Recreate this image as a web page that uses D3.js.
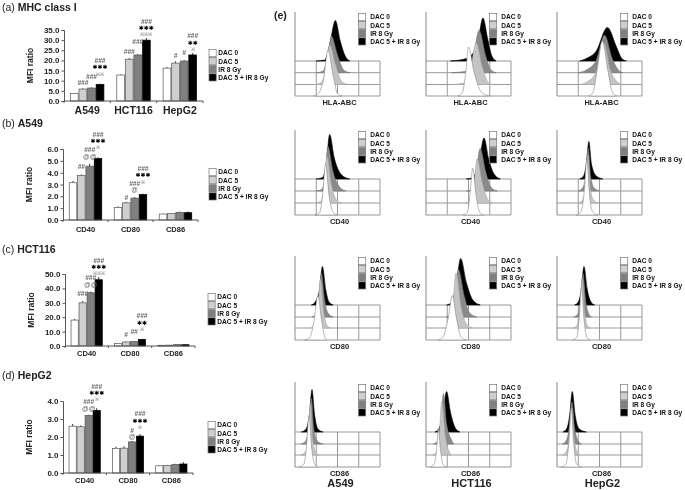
<!DOCTYPE html>
<html>
<head>
<meta charset="utf-8">
<script src="https://cdnjs.cloudflare.com/ajax/libs/d3/7.8.5/d3.min.js"></script>
<style>
body { margin: 0; background: #fff; }
text { font-family: "Liberation Sans", Arial, sans-serif; }
#chart { filter: blur(0.35px); }
</style>
</head>
<body>
<div id="chart"></div>
<script>
const width = 685;
const height = 490;

const treatments = ["DAC 0", "DAC 5", "IR 8 Gy", "DAC 5 + IR 8 Gy"];
const fills = ["#ffffff", "#cfcfcf", "#808080", "#000000"];

// bar values, one row per group, one column per treatment
const cellLines = ["A549", "HCT116", "HepG2"];
const markers = ["CD40", "CD80", "CD86"];

const mhcValues = [[3.7, 5.9, 6.4, 8.2], [12.8, 20.6, 22.7, 30.0], [16.2, 18.7, 19.7, 22.7]];
const mhcErrors = [[0.2, 0.3, 0.3, 0.4], [0.3, 0.6, 0.4, 1.0], [0.5, 0.8, 0.5, 1.0]];
const a549Values = [[3.15, 3.75, 4.55, 5.2], [1.05, 1.45, 1.85, 2.15], [0.5, 0.55, 0.65, 0.62]];
const a549Errors = [[0.15, 0.1, 0.2, 0.1], [0.1, 0.08, 0.1, 0.08], [0.03, 0.04, 0.05, 0.1]];
const hctValues = [[18, 30, 37, 46], [1.8, 2.8, 3.2, 4.6], [0.5, 0.6, 1.0, 0.9]];
const hctErrors = [[0.8, 1.2, 0.8, 1.8], [0.3, 0.4, 0.3, 0.4], [0.1, 0.1, 0.1, 0.1]];
const hepValues = [[2.6, 2.57, 3.2, 3.48], [1.37, 1.38, 1.73, 2.05], [0.4, 0.42, 0.48, 0.5]];
const hepErrors = [[0.12, 0.07, 0.04, 0.12], [0.1, 0.1, 0.05, 0.12], [0.03, 0.03, 0.03, 0.1]];

// significance marks: group, bar, lines from the bar upward
const mhcMarks = [
    [0, 1, ["###"]], [0, 2, ["###"]], [0, 3, ["※※", "✱✱✱", "###"]],
    [1, 1, ["###"]], [1, 2, ["###"]], [1, 3, ["※※※", "✱✱✱", "###"]],
    [2, 1, ["#"]], [2, 2, ["#"]], [2, 3, ["※", "✱✱", "###"]]
];
const a549Marks = [
    [0, 1, ["##"]], [0, 2, ["@@", "###"]], [0, 3, ["※", "✱✱✱", "###"]],
    [1, 1, ["#"]], [1, 2, ["@", "###"]], [1, 3, ["※", "✱✱✱", "###"]]
];
const hctMarks = [
    [0, 1, ["###"]], [0, 2, ["@@", "###"]], [0, 3, ["※※※", "✱✱✱", "###"]],
    [1, 1, ["#"]], [1, 2, ["##"]], [1, 3, ["※", "✱✱", "###"]]
];
const hepMarks = [
    [0, 2, ["@@", "###"]], [0, 3, ["※", "✱✱✱", "###"]],
    [1, 2, ["@", "#"]], [1, 3, ["※", "✱✱✱", "###"]]
];

// histogram outlines as [log decade, relative count], back curve first
const hlaA549 = [
    [[1.0,0],[1.4,2],[1.63,33],[1.9,81],[2.13,40],[2.34,12],[2.57,0]],
    [[1.0,0],[1.3,3],[1.55,35],[1.71,73],[2.0,35],[2.3,5],[2.6,0]],
    [[0.9,0],[1.2,3],[1.45,30],[1.63,79],[1.9,40],[2.2,6],[2.5,0]],
    [[0.9,0],[1.1,5],[1.35,35],[1.55,92],[1.8,40],[2.0,5],[2.2,0]]
];
const hlaHct = [
    [[1.15,0],[1.9,5],[2.4,30],[2.68,86],[2.9,45],[3.1,10],[3.3,0]],
    [[1.2,0],[1.9,3],[2.2,25],[2.5,85],[2.8,35],[3.05,6],[3.3,0]],
    [[1.2,0],[1.8,3],[2.1,30],[2.35,84],[2.65,35],[2.9,6],[3.1,0]],
    [[1.5,0],[1.7,6],[1.88,50],[2.0,98],[2.25,50],[2.6,8],[2.95,0]]
];
const hlaHep = [
    [[1.07,0],[1.38,5],[1.85,20],[2.37,67],[2.8,28],[3.05,5],[3.26,0]],
    [[1.0,0],[1.4,6],[1.85,25],[2.24,75],[2.6,28],[2.9,5],[3.1,0]],
    [[1.07,0],[1.4,5],[1.85,25],[2.2,83],[2.5,30],[2.85,5],[3.05,0]],
    [[1.5,0],[1.7,8],[1.9,55],[2.13,110],[2.4,50],[2.6,8],[2.8,0]]
];
const cd40A549 = [
    [[1.0,0],[1.3,3],[1.47,30],[1.63,89],[1.85,42],[2.2,8],[2.57,0]],
    [[1.0,0],[1.25,3],[1.42,30],[1.55,89],[1.78,40],[2.1,8],[2.4,0]],
    [[0.95,0],[1.2,3],[1.37,30],[1.5,93],[1.7,40],[1.95,6],[2.2,0]],
    [[0.93,0],[1.15,4],[1.3,40],[1.44,103],[1.6,40],[1.8,5],[2.0,0]]
];
const cd40Hct = [
    [[1.9,0],[2.2,3],[2.5,35],[2.73,82],[2.95,40],[3.2,10],[3.5,0]],
    [[1.9,0],[2.15,3],[2.35,35],[2.55,85],[2.8,40],[3.05,8],[3.35,0]],
    [[1.85,0],[2.05,3],[2.25,35],[2.4,88],[2.65,40],[2.9,8],[3.15,0]],
    [[1.75,0],[1.95,6],[2.08,45],[2.2,94],[2.35,42],[2.5,8],[2.7,0]]
];
const cd40Hep = [
    [[1.07,0],[1.25,6],[1.38,30],[1.5,75],[1.62,30],[1.85,6],[2.16,0]],
    [[1.0,0],[1.2,6],[1.35,30],[1.47,86],[1.58,30],[1.75,6],[2.0,0]],
    [[1.0,0],[1.2,6],[1.34,30],[1.46,96],[1.57,30],[1.72,6],[1.95,0]],
    [[0.9,0],[1.12,6],[1.28,45],[1.41,112],[1.52,45],[1.68,6],[1.93,0]]
];
const cd80A549 = [
    [[0.77,0],[0.95,6],[1.15,30],[1.29,77],[1.45,30],[1.6,6],[1.8,0]],
    [[0.8,0],[0.95,5],[1.1,30],[1.24,87],[1.4,32],[1.55,8],[1.8,0]],
    [[0.75,0],[0.9,5],[1.07,30],[1.2,97],[1.35,32],[1.5,6],[1.65,0]],
    [[0.45,0],[0.7,5],[0.9,40],[1.08,89],[1.25,40],[1.4,6],[1.5,0]]
];
const cd80Hct = [
    [[0.97,0],[1.2,5],[1.42,40],[1.63,93],[1.9,45],[2.2,10],[2.55,0]],
    [[0.95,0],[1.15,5],[1.35,40],[1.52,95],[1.8,42],[2.05,8],[2.4,0]],
    [[0.9,0],[1.1,5],[1.25,40],[1.41,110],[1.65,42],[1.9,8],[2.2,0]],
    [[0.58,0],[0.8,6],[1.05,45],[1.24,89],[1.45,40],[1.65,6],[1.9,0]]
];
const cd80Hep = [
    [[0.83,0],[1.0,6],[1.14,30],[1.27,77],[1.42,32],[1.6,6],[1.77,0]],
    [[0.8,0],[0.98,6],[1.1,30],[1.22,87],[1.35,32],[1.5,6],[1.62,0]],
    [[0.78,0],[0.95,6],[1.08,35],[1.19,97],[1.3,32],[1.42,6],[1.55,0]],
    [[0.75,0],[0.93,6],[1.05,45],[1.15,106],[1.27,42],[1.4,6],[1.55,0]]
];
const cd86A549 = [
    [[0.3,0],[0.52,6],[0.68,35],[0.8,85],[0.92,35],[1.08,6],[1.32,0]],
    [[0.3,0],[0.5,6],[0.65,35],[0.77,91],[0.88,32],[1.05,6],[1.32,0]],
    [[0.28,0],[0.48,6],[0.62,35],[0.72,101],[0.83,32],[0.98,6],[1.15,0]],
    [[0.2,0],[0.42,6],[0.55,45],[0.66,103],[0.78,40],[0.92,6],[1.08,0]]
];
const cd86Hct = [
    [[0.42,0],[0.6,6],[0.8,40],[0.97,81],[1.15,40],[1.38,8],[1.6,0]],
    [[0.35,0],[0.55,6],[0.7,40],[0.82,101],[0.97,40],[1.2,8],[1.3,0]],
    [[0.3,0],[0.5,6],[0.63,40],[0.74,107],[0.9,40],[1.1,6],[1.2,0]],
    [[0.2,0],[0.38,6],[0.5,35],[0.58,77],[0.68,35],[0.8,5],[0.97,0]]
];
const cd86Hep = [
    [[0.28,0],[0.47,8],[0.6,35],[0.72,81],[0.85,35],[1.05,6],[1.38,0]],
    [[0.25,0],[0.45,8],[0.58,35],[0.7,84],[0.82,35],[1.0,6],[1.15,0]],
    [[0.25,0],[0.45,8],[0.58,35],[0.7,94],[0.8,35],[0.95,6],[1.07,0]],
    [[0.2,0],[0.42,6],[0.56,50],[0.67,117],[0.78,50],[0.92,6],[1.15,0]]
];

const svg = d3.select("#chart")
    .append("svg")
    .attr("width", width)
    .attr("height", height);

// Bar panels, lifts = gap in px between each mark stack and its whisker
const barPanels = [
    { letter: "(a)", title: "MHC class I", titleY: 11, groups: cellLines, values: mhcValues, errors: mhcErrors, marks: mhcMarks,
      lifts: [3, 8, 8, 4, 10, 2, 3, 5, 2],
      max: 35, step: 5, x0: 64, x1: 203, y0: 101, y1: 30, labelSize: 10.5, labelY: 114, legendX: 209, legendY: 53 },
    { letter: "(b)", title: "A549", titleY: 127, groups: markers, values: a549Values, errors: a549Errors, marks: a549Marks,
      lifts: [5, 5, 8, 2, 5, 10],
      max: 6, step: 1, x0: 63, x1: 198, y0: 220, y1: 149, labelSize: 7.5, labelY: 232, legendX: 209, legendY: 172 },
    { letter: "(c)", title: "HCT116", titleY: 253, groups: markers, values: hctValues, errors: hctErrors, marks: hctMarks,
      lifts: [5, 5, 2, 4, 7, 8],
      max: 50, step: 10, x0: 65, x1: 195, y0: 346, y1: 274, labelSize: 7.5, labelY: 356, legendX: 208, legendY: 297 },
    { letter: "(d)", title: "HepG2", titleY: 379, groups: markers, values: hepValues, errors: hepErrors, marks: hepMarks,
      lifts: [4, 7, 2, 5],
      max: 4, step: 1, x0: 63, x1: 193, y0: 473, y1: 401, labelSize: 7.5, labelY: 483, legendX: 208, legendY: 425 }
];

function drawLegend(x, y, textOffset, size) {
    const rows = svg.append("g")
        .selectAll("g")
        .data(treatments)
        .enter().append("g")
        .attr("transform", (d, i) => `translate(${x},${y + i * 8.1})`);
    rows.append("rect")
        .attr("x", 0)
        .attr("y", -3.5)
        .attr("width", 7.2)
        .attr("height", 7.2)
        .attr("fill", (d, i) => fills[i])
        .attr("stroke", "#777")
        .attr("stroke-width", 0.7);
    rows.append("text")
        .attr("x", textOffset)
        .attr("y", 2.4)
        .attr("font-size", size + "px")
        .attr("font-weight", "bold")
        .attr("fill", "#111")
        .text(d => d);
}

barPanels.forEach(p => {
    const title = svg.append("text")
        .attr("x", 2)
        .attr("y", p.titleY)
        .attr("font-size", "10.5px")
        .attr("font-weight", "bold")
        .attr("fill", "#222");
    title.append("tspan").attr("font-weight", "normal").text(p.letter + " ");
    title.append("tspan").text(p.title);

    const x = d3.scaleBand()
        .domain(p.groups)
        .range([p.x0, p.x1])
        .paddingInner(0.26)
        .paddingOuter(0.13);
    const bar = d3.scaleBand()
        .domain(d3.range(treatments.length))
        .range([0, x.bandwidth()]);
    const y = d3.scaleLinear().domain([0, p.max]).range([p.y0, p.y1]);

    const g = svg.append("g");

    // bars and error whiskers
    p.groups.forEach((name, gi) => {
        const grp = g.append("g");
        grp.selectAll("line")
            .data(p.values[gi])
            .enter().append("line")
            .attr("x1", (d, i) => x(name) + bar(i) + bar.bandwidth() / 2)
            .attr("x2", (d, i) => x(name) + bar(i) + bar.bandwidth() / 2)
            .attr("y1", d => y(d))
            .attr("y2", (d, i) => y(d + p.errors[gi][i]))
            .attr("stroke", "#333")
            .attr("stroke-width", 1);
        grp.selectAll("rect")
            .data(p.values[gi])
            .enter().append("rect")
            .attr("x", (d, i) => x(name) + bar(i) + 0.4)
            .attr("y", d => y(d))
            .attr("width", bar.bandwidth() - 0.8)
            .attr("height", d => y(0) - y(d))
            .attr("fill", (d, i) => fills[i])
            .attr("stroke", (d, i) => i === 3 ? "#000" : "#555")
            .attr("stroke-width", 0.7);
    });

    // significance marks
    p.marks.forEach(([gi, bi, lines], m) => {
        const cx = x(p.groups[gi]) + bar(bi) + bar.bandwidth() / 2;
        const top = y(p.values[gi][bi] + p.errors[gi][bi]) - p.lifts[m];
        lines.forEach((s, i) => {
            const isStar = s[0] === "✱";
            const isHash = s[0] === "#";
            const isRef = s[0] === "※";
            g.append("text")
                .attr("x", cx)
                .attr("y", top - i * 6.3)
                .attr("text-anchor", "middle")
                .style("font-family", isStar ? "'DejaVu Sans'" : null)
                .attr("font-size", isStar ? "6px" : isRef ? "5px" : "6.5px")
                .attr("font-weight", isHash ? "bold" : "normal")
                .attr("font-style", isHash ? "italic" : "normal")
                .attr("fill", isStar ? "#000" : "#666")
                .text(s);
        });
    });

    // axes
    const yAxis = d3.axisLeft(y)
        .tickValues(d3.range(0, p.max + p.step / 2, p.step))
        .tickFormat(d3.format(".1f"))
        .tickSize(2.5)
        .tickPadding(2);
    const ay = g.append("g").attr("transform", `translate(${p.x0},0)`).call(yAxis);
    ay.selectAll("text").attr("font-size", "8px").attr("font-weight", "bold").attr("fill", "#222");
    ay.selectAll("line,path").attr("stroke", "#555");

    const xAxis = d3.axisBottom(x).tickSize(0).tickPadding(0);
    const ax = g.append("g").attr("transform", `translate(0,${p.y0})`).call(xAxis);
    ax.select("path").remove();
    ax.selectAll("text")
        .attr("y", p.labelY - p.y0)
        .attr("dy", 0)
        .attr("font-size", p.labelSize + "px")
        .attr("font-weight", "bold")
        .attr("fill", "#222");
    g.append("line")
        .attr("x1", p.x0).attr("x2", p.x1)
        .attr("y1", p.y0).attr("y2", p.y0)
        .attr("stroke", "#555");
    g.selectAll(".boundary")
        .data(d3.range(p.groups.length + 1))
        .enter().append("line")
        .attr("x1", i => p.x0 + i * x.step())
        .attr("x2", i => p.x0 + i * x.step())
        .attr("y1", p.y0)
        .attr("y2", p.y0 + 2)
        .attr("stroke", "#555");

    g.append("text")
        .attr("transform", `translate(${p.x0 - 31},${(p.y0 + p.y1) / 2}) rotate(-90)`)
        .attr("text-anchor", "middle")
        .attr("font-size", "8.5px")
        .attr("font-weight", "bold")
        .attr("fill", "#222")
        .text("MFI ratio");

    drawLegend(p.legendX, p.legendY, 9.3, 6.6);
});

// Histogram panels
svg.append("text")
    .attr("x", 274)
    .attr("y", 19)
    .attr("font-size", "10.5px")
    .attr("font-weight", "bold")
    .attr("fill", "#222")
    .text("(e)");

const histColumns = [295, 426, 557];
const histRows = [
    { label: "HLA-ABC", axisTop: 12, grid: [61, 72.7, 84.5, 96], labelY: 105, legendY: 17, curves: [hlaA549, hlaHct, hlaHep] },
    { label: "CD40", axisTop: 130, grid: [179, 191, 203, 215], labelY: 224, legendY: 135, curves: [cd40A549, cd40Hct, cd40Hep] },
    { label: "CD80", axisTop: 256, grid: [305, 317, 328, 340], labelY: 349, legendY: 261, curves: [cd80A549, cd80Hct, cd80Hep] },
    { label: "CD86", axisTop: 382, grid: [432, 444, 455, 467], labelY: 476, legendY: 388, curves: [cd86A549, cd86Hct, cd86Hep] }
];
const histWidth = 85;
const decades = d3.range(1, 4);

histRows.forEach(row => {
    histColumns.forEach((left, c) => {
        const x = d3.scaleLinear().domain([0, 4]).range([left, left + histWidth]);
        const count = d3.scaleLinear().domain([0, 100]).range([0, 50]);
        const g = svg.append("g");

        // grid behind the curves
        g.selectAll(".row")
            .data(row.grid)
            .enter().append("line")
            .attr("x1", left).attr("x2", left + histWidth)
            .attr("y1", d => d).attr("y2", d => d)
            .attr("stroke", "#999");
        g.selectAll(".dec")
            .data(decades)
            .enter().append("line")
            .attr("x1", d => x(d)).attr("x2", d => x(d))
            .attr("y1", row.grid[0]).attr("y2", row.grid[3])
            .attr("stroke", "#999");
        g.append("line")
            .attr("x1", x(4)).attr("x2", x(4))
            .attr("y1", row.grid[0]).attr("y2", row.grid[3])
            .attr("stroke", "#999");
        g.append("line")
            .attr("x1", left).attr("x2", left)
            .attr("y1", row.axisTop).attr("y2", row.grid[3])
            .attr("stroke", "#888");

        row.curves[c].forEach((curve, i) => {
            const base = row.grid[i];
            const area = d3.area()
                .x(d => x(d[0]))
                .y0(base)
                .y1(d => base - count(d[1]))
                .curve(d3.curveMonotoneX);
            g.append("path")
                .attr("d", area(curve))
                .attr("fill", ["#000000", "#8a8a8a", "#c4c4c4", "#ffffff"][i])
                .attr("stroke", ["#000000", "#777777", "#aaaaaa", "#888888"][i])
                .attr("stroke-width", 0.6);
        });

        g.append("text")
            .attr("x", left + histWidth / 2 + 2)
            .attr("y", row.labelY)
            .attr("text-anchor", "middle")
            .attr("font-size", "7.5px")
            .attr("font-weight", "bold")
            .attr("fill", "#222")
            .text(row.label);

        drawLegend(left + 63.5, row.legendY, 11.7, 6.6);
    });
});

// Cell line names under the last row
svg.selectAll(".cell-name")
    .data(cellLines)
    .enter().append("text")
    .attr("x", (d, i) => histColumns[i] + histWidth / 2 + 3)
    .attr("y", 487)
    .attr("text-anchor", "middle")
    .attr("font-size", "11px")
    .attr("font-weight", "bold")
    .attr("fill", "#222")
    .text(d => d);
</script>
</body>
</html>
